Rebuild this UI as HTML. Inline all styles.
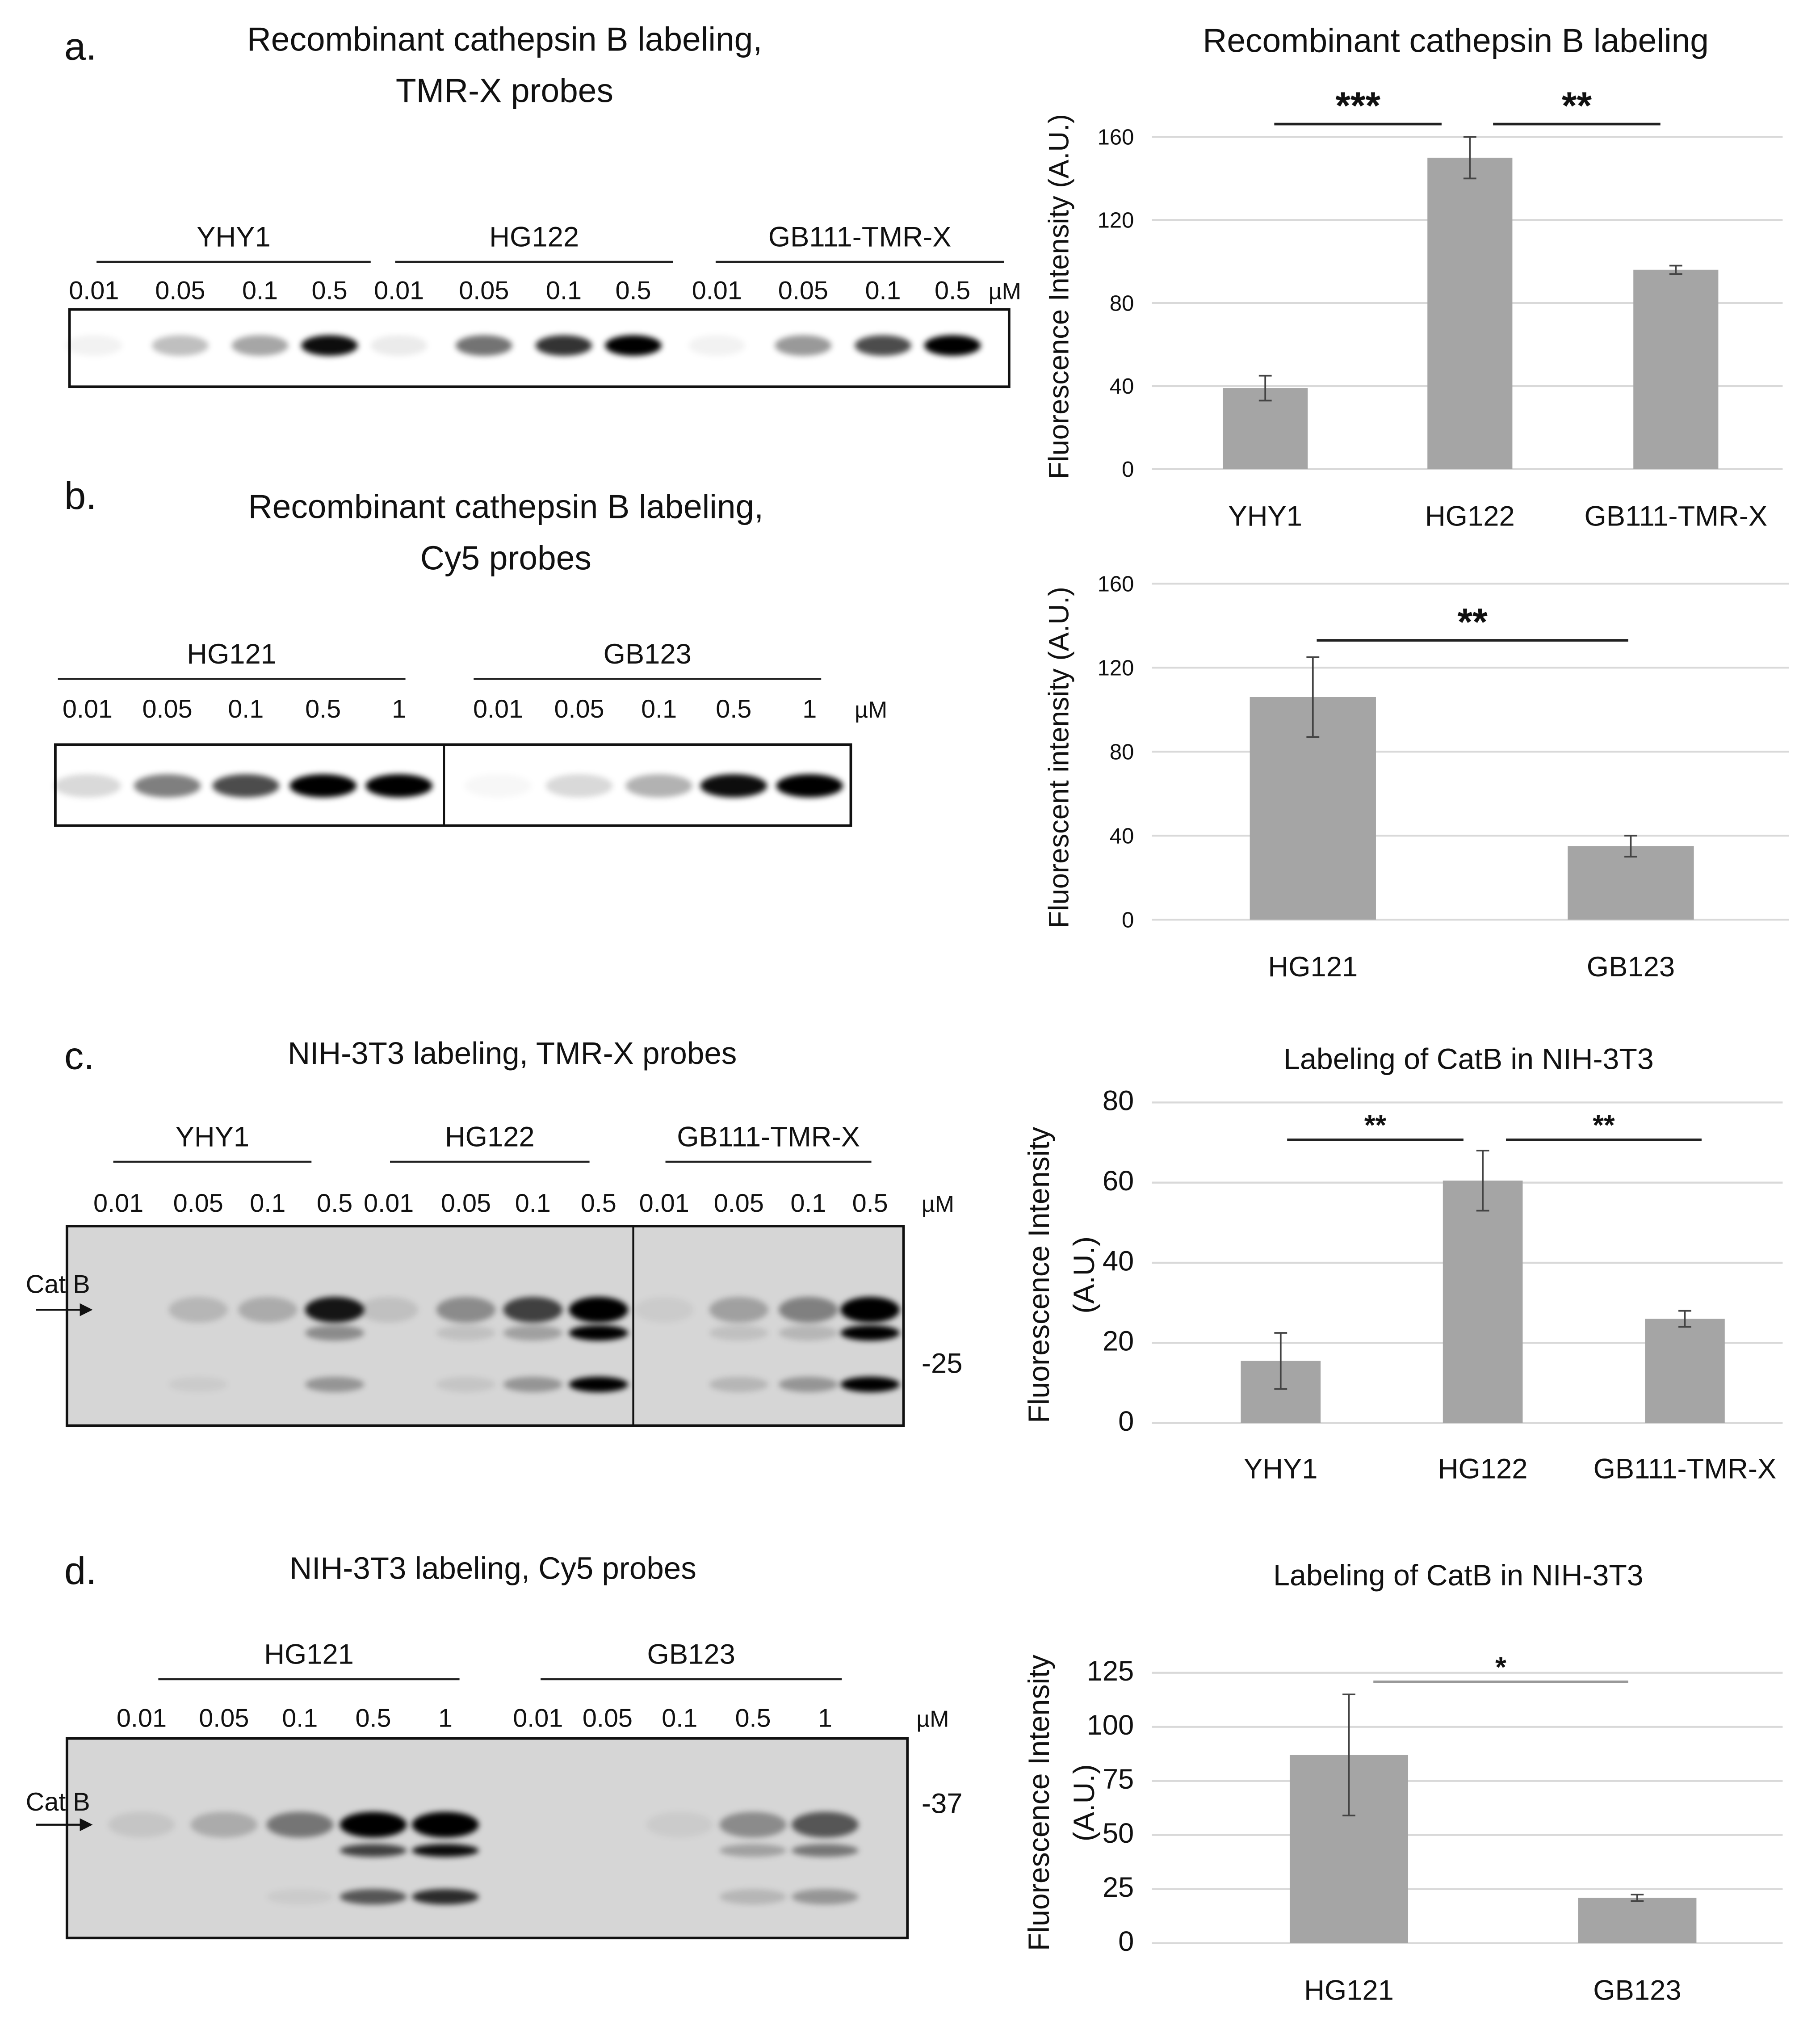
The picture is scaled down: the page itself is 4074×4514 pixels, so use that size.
<!DOCTYPE html>
<html><head><meta charset="utf-8"><style>
html,body{margin:0;padding:0;background:#fff;}
svg{display:block;font-family:"Liberation Sans",sans-serif;}
</style></head><body>
<svg id="fig" width="4074" height="4514" viewBox="0 0 1414 1566" xmlns="http://www.w3.org/2000/svg">
<defs>
<filter id="blur" x="-30%" y="-100%" width="160%" height="300%"><feGaussianBlur stdDeviation="2.2"/></filter>
</defs>
<rect width="1414" height="1566" fill="#fff"/>
<g id="root"></g>
</svg>
<script>
// ---- chart data ----
const catsA = ["YHY1","HG122","GB111-TMR-X"];
const valsA = [39,150,96];
const errA = [6,10,2];
const ticksA = [0,40,80,120,160];

const catsB = ["HG121","GB123"];
const valsB = [106,35];
const errB = [19,5];
const ticksB = [0,40,80,120,160];

const catsC = ["YHY1","HG122","GB111-TMR-X"];
const valsC = [15.5,60.5,26];
const errC = [7,7.5,2];
const ticksC = [0,20,40,60,80];

const catsD = ["HG121","GB123"];
const valsD = [87,21];
const errD = [28,1.5];
const ticksD = [0,25,50,75,100,125];

// gel band intensities (0..1)
const gelA = [0.05,0.25,0.35,0.95, 0.08,0.55,0.8,1, 0.05,0.4,0.7,1];
const gelB = [0.15,0.5,0.7,1,1, 0.03,0.15,0.3,0.95,1];
const gelCmain = [0,0.15,0.2,0.9, 0.1,0.35,0.7,1, 0.05,0.25,0.4,1];
const gelCsec = [0,0,0,0.35, 0,0.1,0.25,1, 0,0.1,0.15,1];
const gelClow = [0,0.05,0,0.3, 0,0.08,0.3,1, 0,0.15,0.3,1];
const gelDmain = [0.08,0.2,0.45,1,1, 0,0,0.05,0.35,0.6];
const gelDsec = [0,0,0,0.7,0.95, 0,0,0,0.25,0.45];
const gelDlow = [0,0,0.05,0.6,0.8, 0,0,0,0.15,0.3];

const NS="http://www.w3.org/2000/svg";
const root=document.getElementById('root');
function el(tag,attrs,parent,txt){const e=document.createElementNS(NS,tag);for(const k in attrs)e.setAttribute(k,attrs[k]);if(txt!==undefined)e.textContent=txt;(parent||root).appendChild(e);return e;}
function text(x,y,s,size,name,anchor,parent,extra){
  const t=el('text',Object.assign({x:x,y:y,'font-size':size,'text-anchor':anchor||'middle',fill:'#111'},extra||{}),parent,s);
  
  
  return t;}
function line(x1,y1,x2,y2,stroke,w,name,parent){
  const l=el('line',{x1,y1,x2,y2,stroke,'stroke-width':w},parent);
  
  
  return l;}

function chart(cfg){
  const g=el('g',{});
  
  
  const max=cfg.ticks[cfg.ticks.length-1];
  const yS=v=>cfg.y0-(v/max)*(cfg.y0-cfg.yTop);
  const xS=i=>cfg.centers[i];
  cfg.ticks.forEach(t=>{
    line(cfg.gx0,yS(t),cfg.gx1,yS(t),'#d9d9d9',1.5,'gridline',g);
    text(cfg.gx0-14,yS(t)+6,String(t),cfg.tickSize||17,'y-tick-label','end',g);
  });
  cfg.cats.forEach((c,i)=>{
    const v=cfg.vals[i],e=cfg.errs[i];
    const b=el('rect',{x:xS(i)-cfg.bw/2,y:yS(v),width:cfg.bw,height:cfg.y0-yS(v),fill:'#a5a5a5'},g);
    
    
    line(xS(i),yS(v+e),xS(i),yS(v-e),'#444',1.3,'error-bar',g);
    line(xS(i)-5,yS(v+e),xS(i)+5,yS(v+e),'#444',1.3,'error-cap',g);
    line(xS(i)-5,yS(v-e),xS(i)+5,yS(v-e),'#444',1.3,'error-cap',g);
    text(xS(i),cfg.catY,c,22,'x-category-label','middle',g);
  });
  if(cfg.title) text(cfg.titleX,cfg.titleY,cfg.title,cfg.titleSize||26,'chart-title','middle',g);
  cfg.ytitle.forEach((s,k)=>{
    const x=cfg.ytX[k];
    text(x,cfg.ytY,s,cfg.ytSize||22,'y-axis-title','middle',g,{transform:`rotate(-90 ${x} ${cfg.ytY})`});
  });
  cfg.sig.forEach(s=>{
    line(s[0],s[2],s[1],s[2],s[4]||'#222',2,'significance-line',g);
    text((s[0]+s[1])/2,s[2]-4,s[3],s[5]||30,'significance-stars','middle',g,{'font-weight':'bold'});
  });
}

chart({name:'chart-a',cats:catsA,vals:valsA,errs:errA,ticks:ticksA,y0:364,yTop:106,gx0:895,gx1:1385,centers:[983,1142,1302],bw:66,catY:408,
  title:'Recombinant cathepsin B labeling',titleX:1131,titleY:40,ytitle:['Fluorescence Intensity (A.U.)'],ytX:[830],ytY:230,
  sig:[[990,1120,96,'***'],[1160,1290,96,'**']]});
chart({name:'chart-b',cats:catsB,vals:valsB,errs:errB,ticks:ticksB,y0:714,yTop:453,gx0:895,gx1:1390,centers:[1020,1267],bw:98,catY:758,
  ytitle:['Fluorescent intensity (A.U.)'],ytX:[830],ytY:588,sig:[[1023,1265,497,'**']]});
chart({name:'chart-c',cats:catsC,vals:valsC,errs:errC,ticks:ticksC,y0:1105,yTop:856,gx0:895,gx1:1385,centers:[995,1152,1309],bw:62,catY:1148,tickSize:22,
  title:'Labeling of CatB in NIH-3T3',titleX:1141,titleY:830,titleSize:23,ytitle:['Fluorescence Intensity','(A.U.)'],ytX:[815,850],ytY:990,ytSize:23,
  sig:[[1000,1137,885,'**',null,22],[1170,1322,885,'**',null,22]]});
chart({name:'chart-d',cats:catsD,vals:valsD,errs:errD,ticks:ticksD,y0:1509,yTop:1299,gx0:895,gx1:1385,centers:[1048,1272],bw:92,catY:1553,tickSize:22,
  title:'Labeling of CatB in NIH-3T3',titleX:1133,titleY:1231,titleSize:23,ytitle:['Fluorescence Intensity','(A.U.)'],ytX:[815,850],ytY:1400,ytSize:23,
  sig:[[1067,1265,1306,'*','#999',22]]});

// ---- gels / panels ----
function band(x,y,w,h,a,g){
  if(a<=0.01)return;
  const r=el('ellipse',{cx:x,cy:y,rx:w/2,ry:h/2,fill:'#000','fill-opacity':a,filter:'url(#blur)'},g);
  
  
}
function panel(p){
  const g=el('g',{});
  
  
  text(p.letter[0],p.letter[1],p.letter[2],30,'panel-letter','start',g);
  p.title.forEach((t,i)=>text(p.titleX,p.titleY+i*40,t,p.titleSize,'panel-title','middle',g));
  p.groups.forEach(gr=>{
    text((gr[1]+gr[2])/2,gr[3]-12,gr[0],22,'probe-group-label','middle',g);
    line(gr[1],gr[3],gr[2],gr[3],'#222',1.5,'group-underline',g);
  });
  p.concs.forEach((c,i)=>text(p.lanes[i],p.concY,c,20,'concentration-label','middle',g));
  text(p.umX,p.concY,'µM',18,'unit-label','start',g);
  const box=el('rect',{x:p.box[0],y:p.box[1],width:p.box[2]-p.box[0],height:p.box[3]-p.box[1],fill:p.bg,stroke:'#111','stroke-width':2},g);
  
  
  p.rows.forEach(r=>r[0].forEach((a,i)=>band(p.lanes[i],r[1],p.bw,r[2],a,g)));
  if(p.div) line(p.div,p.box[1],p.div,p.box[3],'#111',1.5,'gel-divider',g);
  if(p.catb){
    text(20,p.catb[0],'Cat B',20,'cat-b-label','start',g);
    line(28,p.catb[1],66,p.catb[1],'#111',1.5,'cat-b-arrow',g);
    const ah=el('polygon',{points:`72,${p.catb[1]} 62,${p.catb[1]-5} 62,${p.catb[1]+5}`,fill:'#111'},g);
    
    
  }
  if(p.mw) text(p.mw[0],p.mw[1],p.mw[2],22,'mw-marker','start',g);
}
const c4=["0.01","0.05","0.1","0.5"], c5=["0.01","0.05","0.1","0.5","1"];
panel({name:'panel-a',letter:[50,46,'a.'],title:['Recombinant cathepsin B labeling,','TMR-X probes'],titleX:392,titleY:39,titleSize:26,
  groups:[['YHY1',75,288,203],['HG122',307,523,203],['GB111-TMR-X',556,780,203]],
  concs:c4.concat(c4,c4),lanes:[73,140,202,256,310,376,438,492,557,624,686,740],concY:232,umX:768,
  box:[54,240,784,300],bg:'#fff',bw:44,rows:[[gelA,268,16]]});
panel({name:'panel-b',letter:[50,395,'b.'],title:['Recombinant cathepsin B labeling,','Cy5 probes'],titleX:393,titleY:402,titleSize:26,
  groups:[['HG121',45,315,527],['GB123',368,638,527]],
  concs:c5.concat(c5),lanes:[68,130,191,251,310,387,450,512,570,629],concY:557,umX:664,
  box:[43,578,661,641],bg:'#fff',bw:52,div:345,rows:[[gelB,610,18]]});
panel({name:'panel-c',letter:[50,830,'c.'],title:['NIH-3T3 labeling, TMR-X probes'],titleX:398,titleY:826,titleSize:24,
  groups:[['YHY1',88,242,902],['HG122',303,458,902],['GB111-TMR-X',517,677,902]],
  concs:c4.concat(c4,c4),lanes:[92,154,208,260,302,362,414,465,516,574,628,676],concY:941,umX:716,
  box:[52,952,702,1107],bg:'#d6d6d6',bw:46,div:492,
  rows:[[gelCmain,1017,20],[gelCsec,1035,12],[gelClow,1075,12]],catb:[1004,1017],mw:[716,1066,'-25']});
panel({name:'panel-d',letter:[50,1230,'d.'],title:['NIH-3T3 labeling, Cy5 probes'],titleX:383,titleY:1226,titleSize:24,
  groups:[['HG121',123,357,1304],['GB123',420,654,1304]],
  concs:c5.concat(c5),lanes:[110,174,233,290,346,418,472,528,585,641],concY:1341,umX:712,
  box:[52,1350,705,1505],bg:'#d6d6d6',bw:52,
  rows:[[gelDmain,1417,20],[gelDsec,1437,10],[gelDlow,1473,12]],catb:[1406,1417],mw:[716,1408,'-37']});
</script>
</body></html>
